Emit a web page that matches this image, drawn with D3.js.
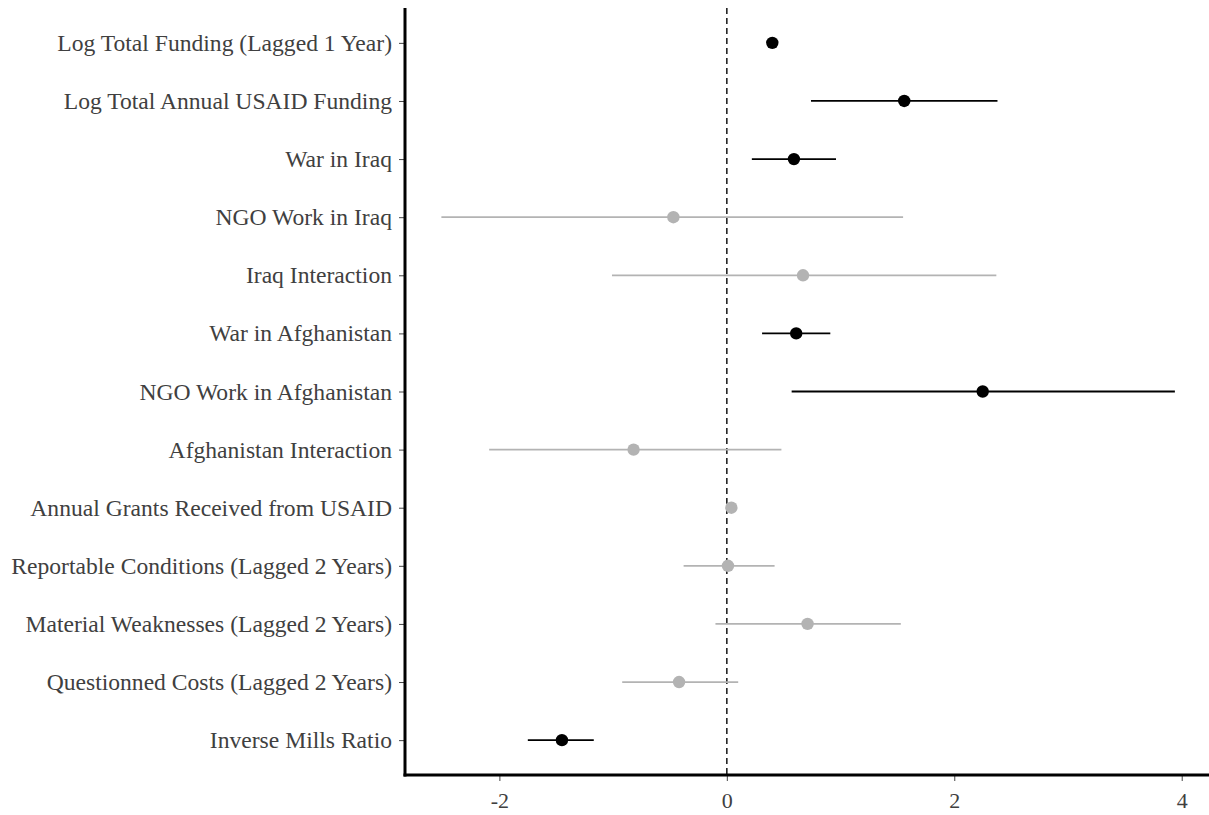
<!DOCTYPE html>
<html>
<head>
<meta charset="utf-8">
<script src="https://cdn.jsdelivr.net/npm/d3@7"></script>
<style>
  body { margin: 0; background: #fff; }
  .tick text { font-family: "Liberation Serif", "Times New Roman", serif; fill: #404040; }
</style>
</head>
<body>
<div id="chart"></div>
<script>
// variables, top to bottom
var terms = [
    "Log Total Funding (Lagged 1 Year)",
    "Log Total Annual USAID Funding",
    "War in Iraq",
    "NGO Work in Iraq",
    "Iraq Interaction",
    "War in Afghanistan",
    "NGO Work in Afghanistan",
    "Afghanistan Interaction",
    "Annual Grants Received from USAID",
    "Reportable Conditions (Lagged 2 Years)",
    "Material Weaknesses (Lagged 2 Years)",
    "Questionned Costs (Lagged 2 Years)",
    "Inverse Mills Ratio"
];
var estimates = [0.40, 1.56, 0.59, -0.47, 0.67, 0.61, 2.25, -0.82, 0.04, 0.01, 0.71, -0.42, -1.45];
var lower = [0.38, 0.74, 0.22, -2.51, -1.01, 0.31, 0.57, -2.09, 0.02, -0.38, -0.10, -0.92, -1.75];
var upper = [0.42, 2.38, 0.96, 1.55, 2.37, 0.91, 3.94, 0.48, 0.06, 0.42, 1.53, 0.10, -1.17];
// significant at the chosen level (drawn black), otherwise grey
var significant = [true, true, true, false, false, true, true, false, false, false, false, false, true];
var xTicks = [-2, 0, 2, 4];

var svgWidth = 1209;
var svgHeight = 815;

var margin = {
    top: 8,
    right: 0,
    bottom: 40,
    left: 405
};

var width = svgWidth - margin.left - margin.right;
var height = svgHeight - margin.top - margin.bottom;

var svg = d3.select("#chart")
    .append("svg")
    .attr("width", svgWidth)
    .attr("height", svgHeight);

var chartGroup = svg.append("g")
    .attr("transform", `translate(${margin.left}, ${margin.top})`);

var data = terms.map(function (t, i) {
    return { term: t, est: estimates[i], lo: lower[i], hi: upper[i], sig: significant[i] };
});

// scales
var xScale = d3.scaleLinear()
    .domain([-2.83, 4.24])
    .range([0, width]);

var yScale = d3.scalePoint()
    .domain(terms)
    .range([0, height])
    .padding(0.6);

function colour(d) {
    return d.sig ? "#000000" : "#b3b3b3";
}

// zero reference line
chartGroup.append("line")
    .attr("x1", xScale(0))
    .attr("x2", xScale(0))
    .attr("y1", 0)
    .attr("y2", height)
    .attr("stroke", "#222")
    .attr("stroke-width", 1.6)
    .attr("stroke-dasharray", "6,4");

// confidence intervals
chartGroup.selectAll(".ci")
    .data(data)
    .enter()
    .append("line")
    .classed("ci", true)
    .attr("x1", d => xScale(d.lo))
    .attr("x2", d => xScale(d.hi))
    .attr("y1", d => yScale(d.term))
    .attr("y2", d => yScale(d.term))
    .attr("stroke", colour)
    .attr("stroke-width", 1.8);

// point estimates
chartGroup.selectAll("circle")
    .data(data)
    .enter()
    .append("circle")
    .attr("cx", d => xScale(d.est))
    .attr("cy", d => yScale(d.term))
    .attr("r", 6.2)
    .attr("fill", colour);

// axes
var bottomAxis = d3.axisBottom(xScale)
    .tickValues(xTicks)
    .tickFormat(d => String(d))
    .tickSize(6)
    .tickPadding(11);
var leftAxis = d3.axisLeft(yScale)
    .tickSize(6)
    .tickPadding(7);

var xAxis = chartGroup.append("g")
    .attr("transform", `translate(0, ${height})`)
    .call(bottomAxis);

var yAxis = chartGroup.append("g")
    .call(leftAxis);

[xAxis, yAxis].forEach(function (ax) {
    ax.select(".domain").remove();
    ax.selectAll(".tick line").attr("stroke", "#444").attr("stroke-width", 1);
});
xAxis.selectAll(".tick text").attr("font-size", 22);
yAxis.selectAll(".tick text").attr("font-size", 23.6);

// axis lines
chartGroup.append("line")
    .attr("x1", 0).attr("x2", 0)
    .attr("y1", 0).attr("y2", height + 1.5)
    .attr("stroke", "#000").attr("stroke-width", 3);
chartGroup.append("line")
    .attr("x1", -1.5).attr("x2", width)
    .attr("y1", height).attr("y2", height)
    .attr("stroke", "#000").attr("stroke-width", 3);
</script>
</body>
</html>
